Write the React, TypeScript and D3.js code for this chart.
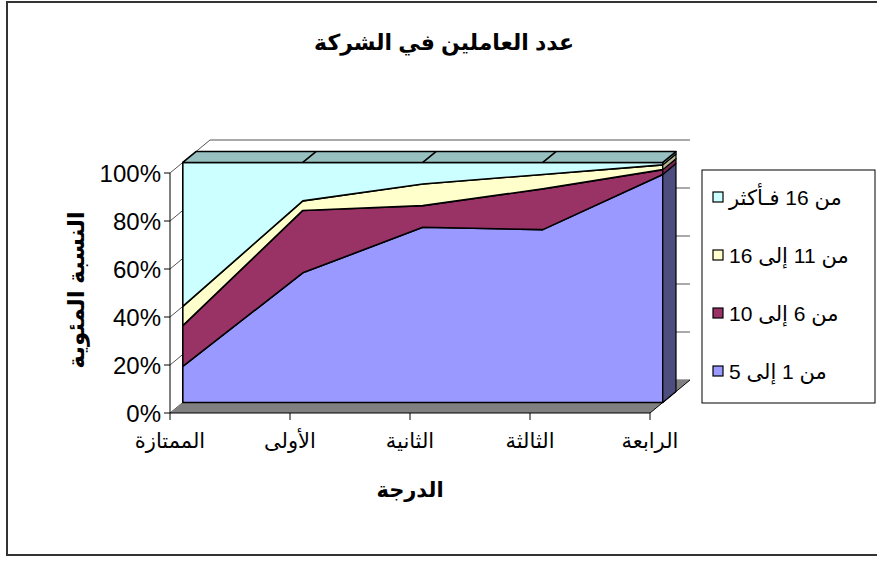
import React from 'react';
import * as d3 from 'd3';

// ---- data ----
const categories = ['الممتازة', 'الأولى', 'الثانية', 'الثالثة', 'الرابعة'];
const seriesNames = ['من 1 إلى 5', 'من 6 إلى 10', 'من 11 إلى 16', 'من 16 فـأكثر'];
const seriesA = [15, 54, 73, 72, 95]; // من 1 إلى 5
const seriesB = [17, 26, 9, 17, 2]; // من 6 إلى 10
const seriesC = [8, 4, 9, 6, 2]; // من 11 إلى 16
const seriesD = [60, 16, 9, 5, 1]; // من 16 فأكثر
const yTicks = [0, 0.2, 0.4, 0.6, 0.8, 1];
const yTickLabels = ['0%', '20%', '40%', '60%', '80%', '100%'];
const chartTitle = 'عدد العاملين في الشركة';
const xTitle = 'الدرجة';
const yTitle = 'النسبة المئوية';

const frontColors = ['#9999FF', '#993366', '#FFFFCC', '#CCFFFF'];
const sideColors = ['#4D4D80', '#73264D', '#B3B38F', '#8AB3B3'];
const topColor = '#99C0C0';

const FONT = '"Liberation Sans", Arial, "DejaVu Sans", sans-serif';

export default function App() {
  const W = 480, H = 240, DX = 40, DY = -33, X0 = 170, Y0 = 413;
  const d1 = 0.32, d2 = 0.65;
  const x = d3.scalePoint<string>().domain(categories).range([0, W]);
  const y = d3.scaleLinear().domain([0, 1]).range([0, H]);
  const P = (cx: number, v: number, d: number): [number, number] => [X0 + cx + d * DX, Y0 - y(v) + d * DY];
  const line = d3.line();
  const poly = (pts: [number, number][]) => line(pts) + 'Z';

  const keys = ['a', 'b', 'c', 'd'];
  const rows = categories.map((c, i) => ({ cat: c, a: seriesA[i], b: seriesB[i], c: seriesC[i], d: seriesD[i] }));
  const layers = d3.stack<any>().keys(keys).offset(d3.stackOffsetExpand)(rows);

  const xEnd = x(categories[categories.length - 1]) as number;

  const gridColor = '#555';

  return (
    <svg width={877} height={561} style={{ position: 'absolute', left: 0, top: 0, fontFamily: FONT }}>
      <rect x={0} y={0} width={877} height={561} fill="#fff" />
      <rect x={7} y={2} width={880} height={553} fill="#fff" stroke="#333" strokeWidth={2} />

      {/* title */}
      <text x={444} y={50} textAnchor="middle" fontSize={22} fontWeight="bold" direction="rtl">{chartTitle}</text>

      {/* walls */}
      <path d={poly([P(0, 0, 1), P(W, 0, 1), P(W, 1, 1), P(0, 1, 1)])} fill="#fff" />
      <path d={poly([P(0, 0, 0), P(0, 1, 0), P(0, 1, 1), P(0, 0, 1)])} fill="#fff" />
      {yTicks.map((v) => (
        <g key={'g' + v}>
          <path d={line([P(0, v, 1), P(W, v, 1)]) as string} stroke={gridColor} strokeWidth={1} fill="none" />
          <path d={line([P(0, v, 0), P(0, v, 1)]) as string} stroke={gridColor} strokeWidth={1} fill="none" />
        </g>
      ))}
      {/* floor */}
      <path d={poly([P(0, 0, 0), P(W, 0, 0), P(W, 0, 1), P(0, 0, 1)])} fill="#808080" />
      <path d={line([P(W, 0, 0), P(W, 0, 1)]) as string} stroke="#000" strokeWidth={1} fill="none" />

      {/* series front faces */}
      {layers.map((layer, k) => {
        const upper = layer.map((dd, i) => P(x(categories[i]) as number, dd[1], d1));
        const lower = layer.map((dd, i) => P(x(categories[i]) as number, dd[0], d1)).reverse();
        return (
          <path key={'f' + k} d={poly([...upper, ...lower])} fill={frontColors[k]} stroke="#000" strokeWidth={1.6} strokeLinejoin="round" />
        );
      })}
      {/* side faces at last category */}
      {layers.map((layer, k) => {
        const dd = layer[layer.length - 1];
        return (
          <path key={'s' + k} d={poly([P(xEnd, dd[0], d1), P(xEnd, dd[1], d1), P(xEnd, dd[1], d2), P(xEnd, dd[0], d2)])}
            fill={sideColors[k]} stroke="#000" strokeWidth={1.2} strokeLinejoin="round" />
        );
      })}
      {/* top band */}
      <path d={poly([P(0, 1, d1), P(W, 1, d1), P(W, 1, d2), P(0, 1, d2)])} fill={topColor} stroke="#000" strokeWidth={1.6} strokeLinejoin="round" />
      {categories.slice(1, -1).map((c) => (
        <path key={'sep' + c} d={line([P(x(c) as number, 1, d1), P(x(c) as number, 1, d2)]) as string} stroke="#000" strokeWidth={1.6} />
      ))}

      {/* axes */}
      <line x1={X0} x2={X0} y1={Y0 - H} y2={Y0} stroke="#000" strokeWidth={1} />
      <line x1={X0} x2={X0 + W} y1={Y0} y2={Y0} stroke="#000" strokeWidth={1} />
      {yTicks.map((v, i) => (
        <g key={'yt' + v}>
          <line x1={X0 - 6} x2={X0} y1={Y0 - y(v)} y2={Y0 - y(v)} stroke="#000" />
          <text x={X0 - 9} y={Y0 - y(v)} dy="0.36em" textAnchor="end" fontSize={24}>{yTickLabels[i]}</text>
        </g>
      ))}
      {categories.map((c) => (
        <g key={'xt' + c}>
          <line x1={X0 + (x(c) as number)} x2={X0 + (x(c) as number)} y1={Y0} y2={Y0 + 7} stroke="#000" />
          <text x={X0 + (x(c) as number)} y={Y0 + 35} textAnchor="middle" fontSize={21}>{c}</text>
        </g>
      ))}

      {/* axis titles */}
      <text x={410} y={497} textAnchor="middle" fontSize={21} fontWeight="bold">{xTitle}</text>
      <text transform="translate(84,290) rotate(-90)" textAnchor="middle" fontSize={23} fontWeight="bold">{yTitle}</text>

      {/* legend */}
      <rect x={702} y={170} width={173} height={233} fill="#fff" stroke="#000" strokeWidth={1} />
      {[3, 2, 1, 0].map((k, row) => {
        const cy = 197 + row * 58;
        return (
          <g key={'lg' + k}>
            <rect x={713} y={cy - 5} width={10} height={10} fill={frontColors[k]} stroke="#000" strokeWidth={1.2} />
            <text x={729} y={cy} dy="0.36em" textAnchor="end" direction="rtl" fontSize={21}>{seriesNames[k]}</text>
          </g>
        );
      })}
    </svg>
  );
}
